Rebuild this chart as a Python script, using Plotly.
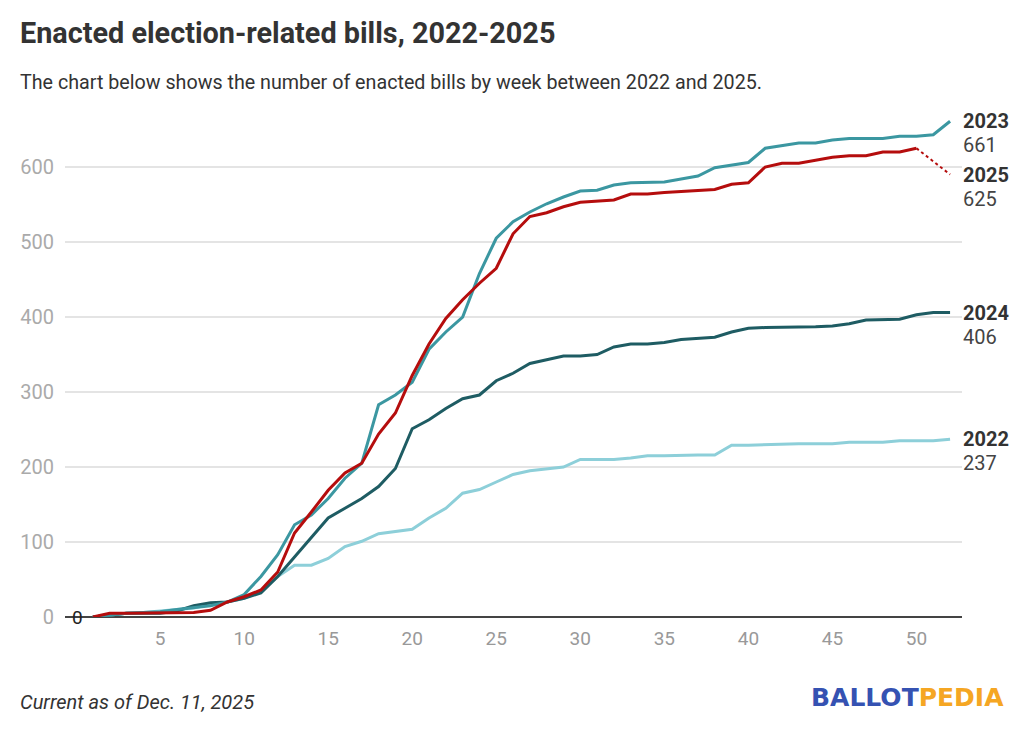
import plotly.graph_objects as go

weeks = list(range(1, 53))

bills_2022 = [0, 3, 5, 6, 8, 10, 12, 17, 20, 25, 35, 54, 69, 69, 78, 94, 101, 111, 114, 117,
              132, 145, 165, 170, 180, 190, 195, 198, 200, 210, 210, 210, 212, 215, 215, 216,
              216, 216, 229, 229, 230, 231, 231, 231, 231, 233, 233, 233, 235, 235, 235, 237]
bills_2023 = [0, 3, 5, 6, 7, 10, 12, 15, 20, 30, 54, 83, 123, 136, 158, 185, 205, 283, 296, 313,
              357, 380, 400, 458, 505, 527, 540, 551, 560, 568, 569, 576, 579, 580, 580, 584,
              588, 599, 603, 606, 625, 629, 632, 632, 636, 638, 638, 638, 641, 641, 643, 661]
bills_2024 = [0, 3, 5, 5, 5, 8, 15, 19, 20, 25, 32, 54, 80, 107, 132, 145, 158, 174, 198, 251,
              263, 278, 291, 296, 315, 325, 338, 343, 348, 348, 350, 360, 364, 364, 366, 370,
              371, 373, 380, 385, 386, 386, 386, 387, 388, 391, 396, 396, 397, 403, 406, 406]
bills_2025 = [0, 5, 5, 5, 5, 5, 6, 9, 20, 27, 36, 60, 112, 140, 169, 192, 205, 244, 272, 322,
              364, 398, 423, 445, 465, 511, 534, 539, 547, 553, 554, 556, 564, 564, 566, 567,
              568, 570, 577, 579, 600, 605, 605, 609, 613, 615, 615, 620, 620, 625]
proj_2025_weeks = [50, 52]
proj_2025_values = [625, 590]

x_ticks = [5, 10, 15, 20, 25, 30, 35, 40, 45, 50]
y_ticks = [0, 100, 200, 300, 400, 500, 600]

colors = {"2022": "#8dcfd9", "2023": "#3b97a1", "2024": "#1e5c63", "2025": "#b50d0d"}

# the page adds an 8px body margin; lay the figure out in screen pixels minus that
OFFX, OFFY = 8, 8
W, H = 1024 - OFFX, 730 - OFFY
PLOT_L, PLOT_R, PLOT_T, PLOT_B = 60 - OFFX, 962 - OFFX, 92 - OFFY, 617 - OFFY
ML, MR, MT, MB = PLOT_L, W - PLOT_R, PLOT_T, H - PLOT_B
PW, PH = PLOT_R - PLOT_L, PLOT_B - PLOT_T


def px_x(p):
    return (p - OFFX - PLOT_L) / PW


def px_y(p):
    return (PLOT_B - (p - OFFY)) / PH


fig = go.Figure()

series = [("2022", bills_2022), ("2024", bills_2024), ("2023", bills_2023), ("2025", bills_2025)]
for name, vals in series:
    fig.add_trace(go.Scatter(
        x=weeks[:len(vals)], y=vals, mode="lines", name=name,
        line=dict(color=colors[name], width=3), showlegend=False, hoverinfo="x+y"))

fig.add_trace(go.Scatter(
    x=proj_2025_weeks, y=proj_2025_values, mode="lines", showlegend=False,
    line=dict(color=colors["2025"], width=2, dash="dot"), hoverinfo="skip"))

annotations = []
end_labels = [
    ("2023", bills_2023[-1], bills_2023[-1]),
    ("2025", proj_2025_values[-1], bills_2025[-1]),
    ("2024", bills_2024[-1], bills_2024[-1]),
    ("2022", bills_2022[-1], bills_2022[-1]),
]
for name, ypos, shown in end_labels:
    annotations.append(dict(
        x=52, y=ypos, xref="x", yref="y", xshift=11, xanchor="left", yanchor="middle",
        text="<b>%s</b>" % name, showarrow=False,
        font=dict(family="Roboto", size=20, color="#333333")))
    annotations.append(dict(
        x=52, y=ypos, xref="x", yref="y", xshift=11, yshift=-24, xanchor="left",
        yanchor="middle", text=str(shown), showarrow=False,
        font=dict(family="Roboto", size=20, color="#444444")))

# black zero marker on the baseline
annotations.append(dict(
    x=px_x(73), y=0, xref="paper", yref="y", xanchor="center", yanchor="middle",
    text="0", showarrow=False, font=dict(family="Roboto", size=19, color="#222222")))

annotations.append(dict(
    x=px_x(13), y=px_y(33), xref="paper", yref="paper", xanchor="left", yanchor="middle",
    text="<b>Enacted election-related bills, 2022-2025</b>", showarrow=False,
    font=dict(family="Roboto", size=28.8, color="#333333")))
annotations.append(dict(
    x=px_x(13), y=px_y(82), xref="paper", yref="paper", xanchor="left", yanchor="middle",
    text="The chart below shows the number of enacted bills by week between 2022 and 2025.",
    showarrow=False, font=dict(family="Roboto", size=19.7, color="#333333")))
annotations.append(dict(
    x=px_x(13), y=px_y(702), xref="paper", yref="paper", xanchor="left", yanchor="middle",
    text="<i>Current as of Dec. 11, 2025</i>", showarrow=False,
    font=dict(family="Roboto", size=20, color="#333333")))
annotations.append(dict(
    x=px_x(1006), y=px_y(697), xref="paper", yref="paper", xanchor="right", yanchor="middle",
    text="<b><span style='color:#3552b2'>BALLOT</span><span style='color:#f5a623'>PEDIA</span></b>",
    showarrow=False, font=dict(family="DejaVu Sans", size=25, color="#3552b2")))

fig.update_layout(
    width=W, height=H,
    margin=dict(l=ML, r=MR, t=MT, b=MB, pad=0),
    paper_bgcolor="white", plot_bgcolor="white",
    font=dict(family="Roboto"),
    annotations=annotations,
    xaxis=dict(range=[-0.657, 52.71], tickvals=x_ticks, ticktext=[str(v) for v in x_ticks],
               showgrid=False, zeroline=False, showline=False, ticks="",
               tickfont=dict(family="Roboto", size=19, color="#999999"),
               ticklabelstandoff=8, fixedrange=True),
    yaxis=dict(range=[0, 700], tickvals=y_ticks, ticktext=[str(v) for v in y_ticks],
               showgrid=True, gridcolor="#e4e4e4", gridwidth=1.5,
               zeroline=True, zerolinecolor="#444444", zerolinewidth=1.5,
               showline=False, ticks="",
               tickfont=dict(family="Roboto", size=20, color="#aaaaaa"),
               ticklabelstandoff=10, fixedrange=True),
)

fig.write_html("out.html")
